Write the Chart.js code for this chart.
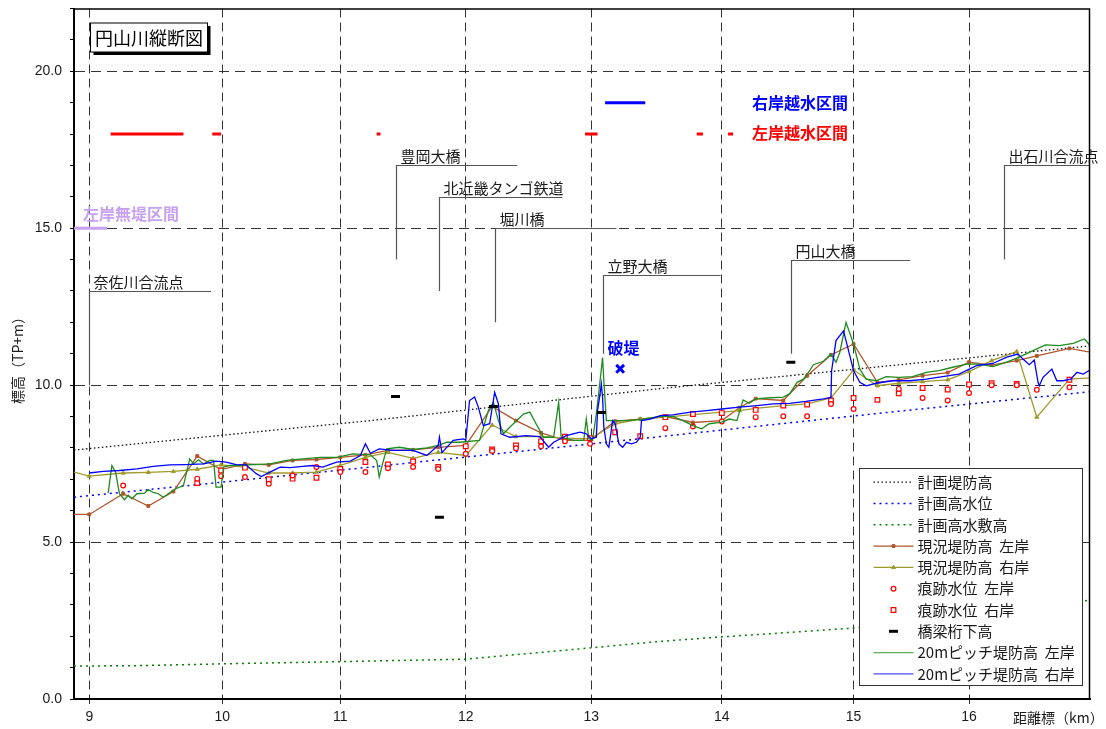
<!DOCTYPE html>
<html lang="ja">
<head>
<meta charset="utf-8">
<title>円山川縦断図</title>
<script src="https://cdn.jsdelivr.net/npm/chart.js@4.4.1/dist/chart.umd.min.js"></script>
<style>
  html, body { margin: 0; padding: 0; background: #fff; }
  #wrap { width: 1106px; height: 729px; }
</style>
</head>
<body>
<div id="wrap"><canvas id="profile-chart" width="1106" height="729"></canvas></div>
<script>
// Km posts (label) and their distance along the river
const kmPostLabels = ['9', '10', '11', '12', '13', '14', '15', '16'];
const kmPostDist = [9.00, 10.06, 11.00, 12.00, 13.00, 14.04, 15.09, 16.01];

// Planned levee height / planned high water level / planned high water channel bed
const planLeveeKm = [8.878, 10.05, 11.24, 13.55, 15.38, 16.974];
const planLeveeZ = [7.93, 8.40, 8.87, 9.89, 10.62, 11.25];
const planHwlKm = [8.878, 11.24, 13.55, 15.38, 16.974];
const planHwlZ = [6.43, 7.39, 8.36, 9.14, 9.79];
const planBedKm = [8.878, 9.35, 10.05, 11.0, 12.0, 12.5, 13.0, 13.5, 14.04, 14.5, 15.09, 16.0, 16.974];
const planBedZ = [1.05, 1.06, 1.12, 1.19, 1.27, 1.45, 1.63, 1.82, 1.98, 2.10, 2.26, 2.70, 3.15];

// Existing levee height at survey sections (left / right bank)
const sectionKm = [8.878, 9.00, 9.27, 9.47, 9.67, 9.86, 10.05, 10.24, 10.43, 10.62, 10.81, 11.00, 11.20, 11.38, 11.58,
  11.78, 12.00, 12.21, 12.40, 12.60, 12.79, 12.99, 13.19, 13.39, 13.59, 13.81, 14.04, 14.18, 14.31, 14.53, 14.72,
  14.91, 15.09, 15.28, 15.45, 15.64, 15.84, 16.01, 16.19, 16.39, 16.55, 16.81, 16.974];
const existingLeftZ = [5.88, 5.88, 6.54, 6.15, 6.61, 7.74, 7.31, 7.49, 7.46, 7.60, 7.63, 7.70, 7.78, 7.92, 7.94,
  8.02, 8.08, 9.32, 8.87, 8.48, 8.24, 8.24, 8.85, 8.92, 9.00, 8.81, 8.87, 9.28, 9.57, 9.51, 10.30,
  10.96, 11.31, 10.09, 10.17, 10.30, 10.40, 10.73, 10.64, 10.78, 10.93, 11.17, 11.05];
const existingRightZ = [7.23, 7.10, 7.20, 7.22, 7.25, 7.32, 7.46, 7.39, 7.20, 7.20, 7.23, 7.44, 7.70, 7.86, 7.67,
  7.86, 7.76, 8.73, 8.36, 8.36, 8.31, 8.29, 8.77, 8.92, 8.98, 9.06, 9.14, 9.19, 9.26, 9.35, 9.40,
  9.59, 10.48, 9.98, 10.06, 10.11, 10.17, 10.43, 10.78, 11.07, 8.98, 10.19, 10.23];

// Trace (flood mark) water levels
const traceLeftKm = [9.27, 9.86, 10.05, 10.24, 10.43, 10.62, 10.81, 11.00, 11.20, 11.38, 11.58, 11.78, 12.00, 12.21,
  12.40, 12.60, 12.79, 12.99, 13.59, 13.81, 14.04, 14.31, 14.53, 14.72, 14.91, 15.09, 15.45, 15.64, 15.84, 16.01,
  16.19, 16.39, 16.55, 16.81];
const traceLeftZ = [6.80, 7.02, 7.10, 7.07, 6.86, 7.12, 7.39, 7.23, 7.23, 7.35, 7.39, 7.33, 7.81, 7.90,
  7.99, 8.05, 8.21, 8.13, 8.63, 8.68, 8.84, 8.98, 9.01, 9.01, 9.40, 9.24, 9.88, 9.59, 9.51, 9.75,
  10.00, 10.00, 9.85, 9.93];
const traceRightKm = [9.86, 10.05, 10.24, 10.43, 10.62, 10.81, 11.00, 11.20, 11.38, 11.58, 11.78, 12.00, 12.21, 12.40,
  12.60, 12.79, 12.99, 13.19, 13.39, 13.59, 13.81, 14.04, 14.31, 14.53, 14.72, 14.91, 15.09, 15.28, 15.45, 15.64,
  15.84, 16.01, 16.19, 16.39, 16.81];
const traceRightZ = [6.88, 7.28, 7.37, 7.00, 7.02, 7.05, 7.33, 7.55, 7.47, 7.57, 7.39, 8.05, 7.95, 8.08,
  8.21, 8.36, 8.31, 8.50, 8.37, 8.98, 9.08, 9.11, 9.21, 9.35, 9.38, 9.51, 9.59, 9.53, 9.74, 9.91,
  9.86, 10.02, 10.06, 10.04, 10.17];

// Bridge girder bottom height
const bridgeKm = [11.44, 11.79, 12.22, 13.08, 14.59];
const bridgeZ = [9.64, 5.79, 9.32, 9.13, 10.73];

// 20m pitch levee height, left bank
const pitchLeftKm = [9.15, 9.18, 9.21, 9.24, 9.28, 9.31, 9.34, 9.38, 9.44, 9.47,
  9.51, 9.55, 9.59, 9.64, 9.69, 9.75, 9.80, 9.83, 9.87, 9.91,
  9.96, 9.99, 10.01, 10.05, 10.07, 10.12, 10.31, 10.44, 10.57, 10.70,
  10.84, 10.97, 11.10, 11.24, 11.29, 11.31, 11.34, 11.37, 11.47, 11.58,
  11.69, 11.78, 11.85, 11.95, 12.11, 12.18, 12.22, 12.26, 12.30, 12.35,
  12.46, 12.51, 12.56, 12.62, 12.70, 12.74, 12.76, 12.86, 12.94, 12.96,
  12.98, 13.01, 13.04, 13.07, 13.09, 13.10, 13.12, 13.28, 13.41, 13.55,
  13.65, 13.73, 13.81, 13.88, 13.94, 14.04, 14.10, 14.16, 14.21, 14.26,
  14.31, 14.40, 14.53, 14.58, 14.64, 14.69, 14.74, 14.77, 14.85, 14.91,
  14.95, 14.98, 15.03, 15.09, 15.14, 15.19, 15.27, 15.35, 15.45, 15.56,
  15.67, 15.77, 15.88, 15.99, 16.09, 16.20, 16.31, 16.41, 16.52, 16.62,
  16.73, 16.84, 16.93, 16.974];
const pitchLeftZ = [6.56, 7.44, 7.22, 6.54, 6.35, 6.49, 6.38, 6.54, 6.56, 6.67,
  6.58, 6.54, 6.43, 6.57, 6.70, 6.80, 7.65, 7.49, 7.62, 7.49,
  7.60, 7.60, 6.75, 6.75, 7.39, 7.44, 7.47, 7.49, 7.60, 7.65,
  7.70, 7.70, 7.81, 7.78, 7.60, 7.07, 7.54, 7.97, 8.02, 7.95,
  8.00, 8.08, 8.18, 8.18, 8.24, 9.19, 9.45, 8.87, 8.45, 8.66,
  9.08, 9.14, 8.77, 8.34, 8.34, 9.45, 8.34, 8.24, 8.24, 8.92,
  8.30, 8.24, 9.08, 10.14, 10.88, 10.14, 8.87, 8.87, 8.92, 9.00,
  9.00, 8.87, 8.71, 8.61, 8.77, 8.82, 8.92, 8.87, 9.53, 9.42,
  9.56, 9.59, 9.62, 9.72, 10.09, 10.19, 10.46, 10.65, 10.76, 10.99,
  10.73, 11.04, 12.00, 11.31, 10.51, 10.19, 10.14, 10.27, 10.25, 10.27,
  10.41, 10.46, 10.57, 10.67, 10.67, 10.59, 10.73, 10.89, 11.10, 11.28,
  11.26, 11.33, 11.47, 11.26];

// 20m pitch levee height, right bank
const pitchRightKm = [9.00, 9.11, 9.24, 9.38, 9.51, 9.64, 9.77, 9.91, 10.01, 10.09,
  10.17, 10.25, 10.33, 10.37, 10.44, 10.52, 10.60, 10.70, 10.78, 10.86,
  10.97, 11.08, 11.16, 11.20, 11.24, 11.31, 11.42, 11.58, 11.69, 11.78,
  11.79, 11.81, 11.90, 11.98, 12.00, 12.03, 12.07, 12.10, 12.14, 12.19,
  12.23, 12.26, 12.28, 12.35, 12.48, 12.59, 12.66, 12.70, 12.80, 12.91,
  12.96, 13.00, 13.04, 13.05, 13.07, 13.08, 13.09, 13.10, 13.12, 13.14,
  13.17, 13.19, 13.22, 13.25, 13.28, 13.32, 13.36, 13.39, 13.40, 13.47,
  13.55, 13.65, 13.79, 13.92, 14.04, 14.18, 14.32, 14.45, 14.58, 14.71,
  14.85, 14.91, 14.915, 14.95, 15.01, 15.05, 15.09, 15.14, 15.19, 15.27,
  15.40, 15.54, 15.67, 15.80, 15.93, 16.07, 16.20, 16.31, 16.40, 16.44,
  16.49, 16.53, 16.56, 16.57, 16.60, 16.67, 16.71, 16.76, 16.82, 16.87,
  16.92, 16.974];
const pitchRightZ = [7.20, 7.25, 7.28, 7.33, 7.41, 7.46, 7.47, 7.49, 7.58, 7.55,
  7.47, 7.46, 7.18, 7.09, 7.23, 7.39, 7.37, 7.41, 7.44, 7.39,
  7.55, 7.58, 7.76, 8.13, 7.83, 7.97, 7.92, 7.92, 7.76, 8.08,
  8.34, 7.85, 8.24, 8.29, 8.24, 9.51, 9.62, 9.30, 8.71, 8.77,
  9.77, 9.40, 8.45, 8.34, 8.39, 8.36, 8.02, 8.18, 8.39, 8.50,
  8.45, 8.29, 8.34, 9.19, 9.72, 10.04, 9.61, 8.66, 8.13, 8.02,
  8.87, 8.77, 8.13, 8.02, 8.18, 8.13, 8.18, 8.34, 8.87, 8.92,
  9.03, 9.05, 9.14, 9.19, 9.24, 9.30, 9.35, 9.40, 9.42, 9.48,
  9.56, 9.61, 10.46, 11.42, 11.73, 11.10, 10.46, 10.09, 9.98, 10.06,
  10.14, 10.14, 10.19, 10.27, 10.35, 10.62, 10.69, 10.89, 10.99, 10.83,
  10.65, 10.80, 10.09, 9.98, 10.25, 10.51, 10.14, 10.14, 10.19, 10.41,
  10.35, 10.48];

// Overtopping / no-levee reaches (from, to) and the level they are drawn at
const leftOverflowFrom = [9.17, 9.98, 11.29, 12.95, 13.84, 14.09];
const leftOverflowTo = [9.75, 10.05, 11.32, 13.05, 13.89, 14.13];
const leftOverflowLevel = 18.0;
const rightOverflowFrom = [13.11];
const rightOverflowTo = [13.43];
const rightOverflowLevel = 19.0;
const noLeveeFrom = [8.878];
const noLeveeTo = [9.14];
const noLeveeLevel = 15.0;

// Levee breach point
const breachKm = [13.23];
const breachZ = [10.52];

// Helpers to build {x, y} points
const pts = (xs, ys) => xs.map((x, i) => ({ x: x, y: ys[i] }));
const bands = (from, to, level) => {
  const out = [];
  from.forEach((a, i) => {
    if (i > 0) out.push({ x: (to[i - 1] + a) / 2, y: null });
    out.push({ x: a, y: level }, { x: to[i], y: level });
  });
  return out;
};
const endsHidden = (n, r) => (c) => (c.dataIndex === 0 || c.dataIndex === n - 1) ? 0 : r;

const CJK = "'Noto Sans CJK JP', 'Noto Sans', sans-serif";
const NUM = "'Liberation Sans', Arial, sans-serif";

var datasets = [
  { label: '計画堤防高', data: pts(planLeveeKm, planLeveeZ), borderColor: '#111', borderWidth: 1.3,
    borderDash: [1.5, 2.5], pointRadius: 0, order: 8 },
  { label: '計画高水位', data: pts(planHwlKm, planHwlZ), borderColor: '#0000ff', borderWidth: 1.5,
    borderDash: [2, 4], pointRadius: 0, order: 9 },
  { label: '計画高水敷高', data: pts(planBedKm, planBedZ), borderColor: '#008000', borderWidth: 1.5,
    borderDash: [2, 4], pointRadius: 0, order: 10 },
  { label: '現況堤防高  左岸', data: pts(sectionKm, existingLeftZ), borderColor: '#b0562c', borderWidth: 1.3,
    pointStyle: 'rect', pointRadius: endsHidden(sectionKm.length, 2), legendRadius: 2,
    pointBackgroundColor: '#b0562c', pointBorderColor: '#b0562c', pointBorderWidth: 1, order: 7 },
  { label: '現況堤防高  右岸', data: pts(sectionKm, existingRightZ), borderColor: '#a09a2e', borderWidth: 1.3,
    pointStyle: 'triangle', pointRadius: endsHidden(sectionKm.length, 2.3), legendRadius: 2.3,
    pointBackgroundColor: '#a09a2e', pointBorderColor: '#a09a2e', pointBorderWidth: 1, order: 6 },
  { label: '痕跡水位  左岸', data: pts(traceLeftKm, traceLeftZ), showLine: false, pointStyle: 'circle',
    pointRadius: 2.4, legendRadius: 2.4, pointBackgroundColor: '#ffffff', pointBorderColor: '#ff0000',
    pointBorderWidth: 1.2, order: 5 },
  { label: '痕跡水位  右岸', data: pts(traceRightKm, traceRightZ), showLine: false, pointStyle: 'rect',
    pointRadius: 3.3, legendRadius: 3.3, pointBackgroundColor: '#ffffff', pointBorderColor: '#ff0000',
    pointBorderWidth: 1.2, order: 5 },
  { label: '橋梁桁下高', data: pts(bridgeKm, bridgeZ), showLine: false, pointStyle: 'line',
    pointRadius: 4.5, legendRadius: 4.5, pointBorderColor: '#000', pointBackgroundColor: '#000',
    pointBorderWidth: 3, order: 1 },
  { label: '20mピッチ堤防高  左岸', data: pts(pitchLeftKm, pitchLeftZ), borderColor: '#1e8c1e',
    borderWidth: 1.3, pointRadius: 0, order: 4 },
  { label: '20mピッチ堤防高  右岸', data: pts(pitchRightKm, pitchRightZ), borderColor: '#0000ff',
    borderWidth: 1.3, pointRadius: 0, order: 3 },
  { label: '左岸越水区間', data: bands(leftOverflowFrom, leftOverflowTo, leftOverflowLevel),
    borderColor: '#ff0000', borderWidth: 3, pointRadius: 0, order: 2 },
  { label: '右岸越水区間', data: bands(rightOverflowFrom, rightOverflowTo, rightOverflowLevel),
    borderColor: '#0000ff', borderWidth: 3, pointRadius: 0, order: 2 },
  { label: '左岸無堤区間', data: bands(noLeveeFrom, noLeveeTo, noLeveeLevel),
    borderColor: '#c8a0f0', borderWidth: 3, pointRadius: 0, order: 2 },
  { label: '破堤', data: pts(breachKm, breachZ), showLine: false, pointStyle: 'crossRot',
    pointRadius: 5.5, pointBorderColor: '#0000ff', pointBorderWidth: 3, order: 0 }
];
const legendCount = 10;

// Leader lines for bridges and confluences (km, top level, bottom level, end of underline)
const leaders = [
  { text: '奈佐川合流点', km: 9.00, top: 13.0, bottom: 10.0, end: 9.97 },
  { text: '豊岡大橋', km: 11.44, top: 17.0, bottom: 14.0, end: 12.41 },
  { text: '北近畿タンゴ鉄道', km: 11.79, top: 16.0, bottom: 13.0, end: 12.77 },
  { text: '堀川橋', km: 12.23, top: 15.0, bottom: 12.0, end: 13.20 },
  { text: '立野大橋', km: 13.09, top: 13.5, bottom: 11.0, end: 14.03 },
  { text: '円山大橋', km: 14.59, top: 14.0, bottom: 11.0, end: 15.54 },
  { text: '出石川合流点', km: 16.29, top: 17.0, bottom: 14.0, end: 16.974 }
];

// Coloured notes
const notes = [
  { text: '左岸無堤区間', km: 8.95, z: 15.45, color: '#c8a0f0' },
  { text: '右岸越水区間', km: 14.28, z: 18.98, color: '#0000ff' },
  { text: '左岸越水区間', km: 14.28, z: 18.03, color: '#ff0000' },
  { text: '破堤', km: 13.13, z: 11.19, color: '#0000ff' }
];

function drawMarker(ctx, style, x, y, r, fill, stroke, bw) {
  ctx.save();
  ctx.setLineDash([]);
  ctx.fillStyle = fill;
  ctx.strokeStyle = stroke;
  ctx.lineWidth = bw;
  ctx.beginPath();
  if (style === 'circle') {
    ctx.arc(x, y, r, 0, Math.PI * 2);
  } else if (style === 'rect') {
    const s = r * Math.SQRT1_2;
    ctx.rect(x - s, y - s, 2 * s, 2 * s);
  } else if (style === 'triangle') {
    ctx.moveTo(x, y - r);
    ctx.lineTo(x + r * 0.87, y + r * 0.5);
    ctx.lineTo(x - r * 0.87, y + r * 0.5);
    ctx.closePath();
  } else if (style === 'line') {
    ctx.moveTo(x - r, y);
    ctx.lineTo(x + r, y);
  }
  if (style !== 'line') ctx.fill();
  ctx.stroke();
  ctx.restore();
}

// Annotations, legend, frame and axis titles
const profileDecor = {
  id: 'profileDecor',
  beforeDatasetsDraw(chart) {
    const ctx = chart.ctx, xs = chart.scales.x, ys = chart.scales.y;
    ctx.save();
    ctx.strokeStyle = '#555';
    ctx.lineWidth = 1.2;
    ctx.font = '15px ' + CJK;
    ctx.fillStyle = '#1a1a1a';
    ctx.textBaseline = 'middle';
    leaders.forEach(function (m) {
      const x = Math.round(xs.getPixelForValue(m.km)) + 0.5;
      const yt = Math.round(ys.getPixelForValue(m.top)) + 0.5;
      const yb = ys.getPixelForValue(m.bottom);
      const xe = xs.getPixelForValue(m.end);
      ctx.beginPath();
      ctx.moveTo(x, yb);
      ctx.lineTo(x, yt);
      ctx.lineTo(xe, yt);
      ctx.stroke();
      ctx.fillText(m.text, x + 4, yt - 9);
    });
    ctx.restore();
  },
  afterDatasetsDraw(chart) {
    const ctx = chart.ctx, xs = chart.scales.x, ys = chart.scales.y, ca = chart.chartArea;

    // coloured notes
    ctx.save();
    ctx.font = 'bold 16px ' + CJK;
    ctx.textBaseline = 'middle';
    notes.forEach(function (n) {
      ctx.fillStyle = n.color;
      ctx.fillText(n.text, xs.getPixelForValue(n.km), ys.getPixelForValue(n.z));
    });
    ctx.restore();

    // title box with shadow
    ctx.save();
    const bx = ca.left + 16.5, by = ca.top + 14.5, bw = 117, bh = 29;
    ctx.fillStyle = '#000';
    ctx.fillRect(bx + 3, by + 3, bw, bh);
    ctx.fillStyle = '#fff';
    ctx.fillRect(bx, by, bw, bh);
    ctx.strokeStyle = '#000';
    ctx.lineWidth = 1;
    ctx.strokeRect(bx, by, bw, bh);
    ctx.fillStyle = '#000';
    ctx.font = '18px ' + CJK;
    ctx.textAlign = 'center';
    ctx.textBaseline = 'middle';
    ctx.fillText('円山川縦断図', bx + bw / 2, by + bh / 2 + 1);
    ctx.restore();

    // legend box
    ctx.save();
    const lx = ca.right - 230.5, ly = ca.bottom - 230.5, lw = 223, lh = 217;
    ctx.fillStyle = '#fff';
    ctx.fillRect(lx, ly, lw, lh);
    ctx.strokeStyle = '#333';
    ctx.lineWidth = 1;
    ctx.strokeRect(lx, ly, lw, lh);
    ctx.font = '15px ' + CJK;
    ctx.textBaseline = 'middle';
    for (let i = 0; i < legendCount; i++) {
      const ds = datasets[i];
      const y = ly + 13.7 + i * 21.3;
      const x0 = lx + 14, x1 = lx + 54, xm = (x0 + x1) / 2;
      if (ds.showLine !== false) {
        ctx.save();
        if (i >= 8) ctx.globalAlpha = 0.7;
        ctx.strokeStyle = ds.borderColor;
        ctx.lineWidth = ds.borderWidth;
        ctx.setLineDash(ds.borderDash || []);
        ctx.beginPath();
        ctx.moveTo(x0, y);
        ctx.lineTo(x1, y);
        ctx.stroke();
        ctx.restore();
      }
      if (ds.legendRadius) {
        drawMarker(ctx, ds.pointStyle, xm, y, ds.legendRadius, ds.pointBackgroundColor,
          ds.pointBorderColor, ds.pointBorderWidth);
      }
      ctx.fillStyle = '#1a1a1a';
      ctx.fillText(ds.label, lx + 58, y);
    }
    ctx.restore();
  },
  afterDraw(chart) {
    const ctx = chart.ctx, ca = chart.chartArea;
    ctx.save();
    // top and right frame
    ctx.strokeStyle = '#000';
    ctx.lineWidth = 1.5;
    ctx.beginPath();
    ctx.moveTo(ca.left, ca.top + 0.5);
    ctx.lineTo(ca.right - 0.5, ca.top + 0.5);
    ctx.lineTo(ca.right - 0.5, ca.bottom);
    ctx.stroke();
    // axis titles
    ctx.fillStyle = '#1a1a1a';
    ctx.font = '14px ' + CJK;
    ctx.textBaseline = 'middle';
    ctx.fillText('距離標（km）', ca.right - 77, ca.bottom + 19);
    ctx.translate(18, 357);
    ctx.rotate(-Math.PI / 2);
    ctx.textAlign = 'center';
    ctx.fillText('標高（TP+m）', 0, 0);
    ctx.restore();
  }
};

// Create the chart
var ctx = document.getElementById('profile-chart').getContext('2d');
var profileChart = new Chart(ctx, {
  type: 'line',
  data: { datasets: datasets },
  plugins: [profileDecor],
  options: {
    responsive: false,
    animation: false,
    events: [],
    layout: { padding: { left: 0, top: 7, right: 16, bottom: 0 } },
    elements: { line: { tension: 0, fill: false } },
    plugins: {
      legend: { display: false },
      tooltip: { enabled: false }
    },
    scales: {
      x: {
        type: 'linear',
        min: 8.878,
        max: 16.974,
        afterBuildTicks: function (axis) {
          axis.ticks = kmPostDist.map(function (v) { return { value: v }; });
        },
        afterFit: function (scale) {
          scale.height = 30;
          scale.paddingLeft = 0;
          scale.paddingRight = 0;
        },
        ticks: {
          autoSkip: false,
          maxRotation: 0,
          padding: 5,
          color: '#1a1a1a',
          font: { family: NUM, size: 14 },
          callback: function (value, index) { return kmPostLabels[index]; }
        },
        grid: { color: '#333', lineWidth: 1, tickLength: 5, tickColor: '#333' },
        border: { display: true, color: '#000', width: 2, dash: [9, 5] }
      },
      y: {
        type: 'linear',
        min: 0,
        max: 22,
        afterFit: function (scale) {
          scale.width = 74;
          scale.paddingTop = 0;
          scale.paddingBottom = 0;
        },
        ticks: {
          stepSize: 1,
          autoSkip: false,
          padding: 8,
          color: '#1a1a1a',
          font: { family: NUM, size: 14 },
          callback: function (value) { return value % 5 === 0 ? value.toFixed(1) : ''; }
        },
        grid: {
          color: function (c) {
            const v = c.tick ? c.tick.value : 0;
            return (v % 5 === 0 && v > 0 && v < 22) ? '#333' : 'rgba(0,0,0,0)';
          },
          lineWidth: 1,
          tickLength: 4,
          tickColor: '#000'
        },
        border: { display: true, color: '#000', width: 2, dash: [10, 6] }
      }
    }
  }
});
</script>
</body>
</html>
